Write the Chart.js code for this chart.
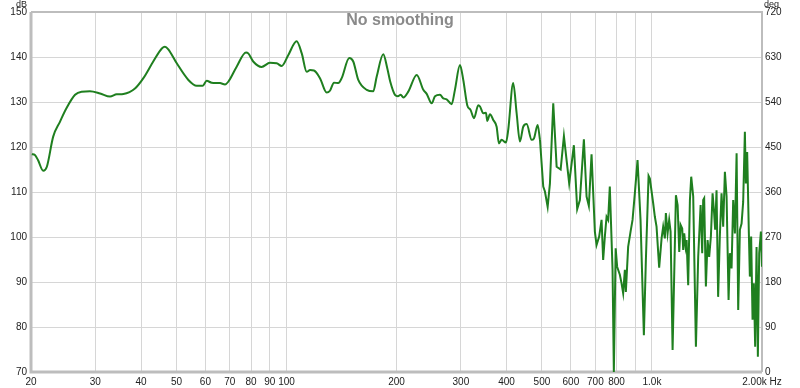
<!DOCTYPE html>
<html>
<head>
<meta charset="utf-8">
<script src="https://cdn.jsdelivr.net/npm/chart.js@4/dist/chart.umd.min.js"></script>
<style>
  html, body { margin: 0; padding: 0; background: #fff; }
</style>
</head>
<body>
<canvas id="fr" width="800" height="388"></canvas>
<script>
// Frequency response (Hz / dB)
const freqHz = [
  20.1, 20.5, 20.9, 21.6, 22.1, 23.0, 24.0, 25.0, 26.4, 27.5, 29.0, 30.9, 32.9, 34.3, 35.8,
  38.5, 40.6, 43.2, 45.6, 46.5, 47.5, 50.1, 53.9, 56.8, 59.0, 60.5, 62.4, 65.8, 67.9, 69.3,
  73.0, 77.5, 78.6, 81.1, 85.5, 90.1, 94.0, 97.0, 101.1, 106.6, 110.1, 113.6, 116.0, 118.9,
  123.5, 128.8, 131.5, 134.9, 138.6, 141.6, 148.5, 152.3, 157.2, 165.8, 172.8, 176.5, 184.0,
  188.7, 192.3, 198.1, 201.8, 205.4, 208.8, 215.4, 227.2, 236.8, 241.9, 249.7, 254.9, 263.0,
  268.5, 274.3, 283.1, 289.0, 298.3, 304.6, 312.3, 319.1, 325.8, 334.8, 338.5, 345.5, 351.4,
  354.3, 360.4, 367.9, 375.8, 381.3, 387.8, 398.5, 404.3, 417.2, 426.3, 435.2, 444.4, 454.1,
  468.6, 475.4, 486.6, 493.8, 504.1, 509.5, 518.3, 525.8, 536.9, 548.5, 562.5, 574.2, 593.6,
  611.4, 624.3, 635.0, 651.2, 662.3, 671.9, 683.4, 697.8, 705.3, 717.0, 727.9, 735.3, 743.2,
  751.2, 758.7, 766.7, 780.1, 786.5, 795.5, 803.0, 816.8, 825.6, 834.0, 843.0, 848.3, 860.6,
  873.8, 884.8, 897.7, 913.1, 930.5, 950.3, 962.3, 978.8, 986.9, 1007.6, 1018.4, 1029.2,
  1046.4, 1062.4, 1073.1, 1084.6, 1091.5, 1103.3, 1114.5, 1124.4, 1138.7, 1162.8, 1175.3,
  1187.4, 1197.7, 1209.9, 1217.5, 1225.2, 1236.1, 1243.9, 1256.2, 1270.0, 1280.5, 1296.7,
  1318.9, 1338.1, 1358.6, 1372.4, 1380.7, 1389.4, 1404.4, 1419.5, 1433.8, 1449.4, 1465.0,
  1479.3, 1488.7, 1501.9, 1517.1, 1533.4, 1550.0, 1566.1, 1583.1, 1600.0, 1620.2, 1633.5,
  1651.0, 1668.1, 1686.1, 1704.3, 1721.6, 1739.9, 1758.5, 1776.3, 1795.5, 1806.8, 1821.6,
  1841.2, 1852.8, 1867.9, 1884.5, 1900.0, 1915.6, 1932.6, 1948.6, 1965.0, 1986.2, 2000.0
];
const levelDb = [
  118.4, 118.2, 117.1, 114.7, 115.6, 122.3, 125.6, 128.6, 131.6, 132.3, 132.4, 131.9, 131.2, 131.7, 131.8,
  133.0, 135.3, 139.0, 141.9, 142.3, 141.7, 138.6, 134.9, 133.6, 133.6, 134.7, 134.3, 134.2, 133.9, 134.5,
  137.8, 141.0, 140.8, 139.0, 137.8, 138.7, 138.6, 138.0, 140.4, 143.5, 140.8, 136.7, 137.1, 137.0,
  135.3, 132.1, 132.5, 134.3, 134.2, 135.3, 139.8, 139.0, 134.9, 132.7, 132.4, 135.6, 140.6,
  137.5, 134.5, 131.6, 131.3, 131.6, 131.0, 132.3, 136.0, 132.7, 131.8, 129.7, 131.3, 131.6,
  130.8, 130.6, 129.5, 132.7, 138.2, 134.9, 129.3, 128.2, 126.4, 129.3, 129.0, 127.5, 127.6,
  125.8, 127.3, 126.0, 124.5, 120.8, 121.6, 121.0, 123.8, 134.2, 127.5, 121.2, 124.5, 125.1,
  121.6, 121.9, 124.9, 121.6, 111.2, 110.1, 106.7, 111.9, 129.7, 115.6, 115.0, 122.4, 111.9,
  120.4, 106.2, 108.2, 121.7, 109.0, 106.9, 118.4, 101.2, 98.2, 100.1, 103.8, 94.9, 100.1,
  104.5, 103.8, 111.2, 92.7, 70.0, 97.5, 93.4, 91.6, 89.7, 87.5, 92.7, 87.8, 97.8,
  101.2, 103.8, 109.7, 117.1, 103.8, 78.2, 94.9, 113.6, 113.0, 107.5, 104.5, 102.3,
  93.2, 99.7, 102.3, 99.7, 105.3, 100.8, 103.8, 101.2, 74.9, 109.3, 107.1,
  96.7, 102.7, 101.9, 97.1, 100.8, 97.8, 99.3, 89.3, 108.2, 113.4, 109.0,
  75.6, 95.6, 107.1, 96.4, 108.2, 108.6, 89.0, 99.3, 95.6, 100.1, 109.7,
  105.3, 101.6, 110.4, 86.7, 100.1, 109.7, 102.3, 114.5, 109.0, 86.0, 96.4,
  93.0, 108.2, 100.8, 118.6, 83.8, 101.6, 103.0, 107.8, 123.4, 111.9, 118.9,
  100.8, 91.2, 100.1, 81.6, 89.7, 75.6, 97.8, 73.4, 96.4, 101.2, 93.4
];
// above this frequency the trace is jagged, so it is drawn with straight segments
const jaggedFrom = 490;

const xTicks = [20, 30, 40, 50, 60, 70, 80, 90, 100, 200, 300, 400, 500, 600, 700, 800, 900, 1000, 2000];
const xTickLabels = ["20", "30", "40", "50", "60", "70", "80", "90", "100", "200", "300", "400", "500", "600", "700", "800", "", "1.0k", "2.00k Hz"];
const dbTicks = [70, 80, 90, 100, 110, 120, 130, 140, 150];
const degTicks = [0, 90, 180, 270, 360, 450, 540, 630, 720];

const FONT = "'Liberation Sans', Arial, sans-serif";
Chart.defaults.font.family = FONT;
Chart.defaults.font.size = 10;
Chart.defaults.color = "#222";

// frame, title and unit captions
const decor = {
  id: "decor",
  beforeDatasetsDraw(chart) {
    const { ctx, chartArea: a } = chart;
    ctx.save();
    ctx.strokeStyle = "#bdbdbd";
    ctx.lineWidth = 2;
    ctx.beginPath();
    ctx.moveTo(a.left, a.top); ctx.lineTo(a.right, a.top); ctx.lineTo(a.right, a.bottom);
    ctx.stroke();
    ctx.lineWidth = 3;
    ctx.beginPath();
    ctx.moveTo(a.left, a.top); ctx.lineTo(a.left, a.bottom); ctx.lineTo(a.right, a.bottom);
    ctx.stroke();
    ctx.restore();
  },
  afterDraw(chart) {
    const { ctx } = chart;
    ctx.save();
    ctx.fillStyle = "#8a8a8a";
    ctx.font = "bold 16px " + FONT;
    ctx.textAlign = "center";
    ctx.textBaseline = "alphabetic";
    ctx.fillText("No smoothing", 400, 25);
    ctx.fillStyle = "#222";
    ctx.font = "9px " + FONT;
    ctx.textBaseline = "top";
    ctx.textAlign = "right";
    ctx.fillText("dB", 27, 0);
    ctx.textAlign = "left";
    ctx.fillText("deg", 764, 0);
    ctx.restore();
  }
};

const points = freqHz.map((f, i) => ({ x: f, y: levelDb[i] }));
const split = freqHz.findIndex(f => f >= jaggedFrom);
const lineStyle = { borderColor: "#1f7f1f", borderWidth: 2, pointRadius: 0, fill: false };

const ctx = document.getElementById("fr").getContext("2d");
new Chart(ctx, {
  type: "line",
  data: {
    datasets: [
      { ...lineStyle, data: points.slice(0, split + 1), cubicInterpolationMode: "monotone" },
      { ...lineStyle, data: points.slice(split), tension: 0 }
    ]
  },
  options: {
    responsive: false,
    animation: false,
    layout: { padding: { top: 12 } },
    plugins: { legend: { display: false }, tooltip: { enabled: false } },
    scales: {
      x: {
        type: "logarithmic",
        min: 20, max: 2000,
        afterBuildTicks: s => { s.ticks = xTicks.map(v => ({ value: v })); },
        afterFit: s => { s.height = 16; },
        ticks: {
          autoSkip: false, maxRotation: 0, padding: 4,
          callback: (v, i) => xTickLabels[i]
        },
        grid: { color: "#d6d6d6", drawTicks: false },
        border: { display: false }
      },
      y: {
        position: "left",
        min: 70, max: 150,
        afterBuildTicks: s => { s.ticks = dbTicks.map(v => ({ value: v })); },
        afterFit: s => { s.width = 31; },
        ticks: { padding: 4 },
        grid: { color: "#d6d6d6", drawTicks: false },
        border: { display: false }
      },
      y2: {
        position: "right",
        min: 0, max: 720,
        afterBuildTicks: s => { s.ticks = degTicks.map(v => ({ value: v })); },
        afterFit: s => { s.width = 38; },
        ticks: { padding: 3 },
        grid: { display: false, drawTicks: false },
        border: { display: false }
      }
    }
  },
  plugins: [decor]
});
</script>
</body>
</html>
